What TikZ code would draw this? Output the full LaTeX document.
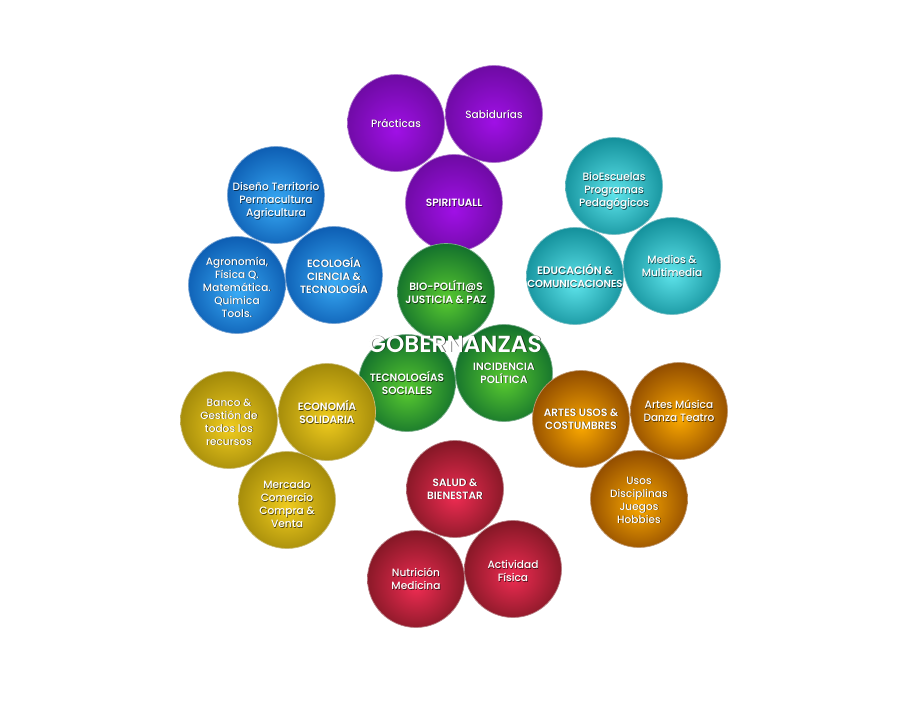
\documentclass[tikz,border=0pt]{standalone}
\usepackage{fontspec}
\setmainfont{Poppins}[UprightFont=* Medium, BoldFont=* SemiBold]
\definecolor{purplein}{HTML}{A010E6}\definecolor{purpleout}{HTML}{6A0A9E}
\definecolor{bluein}{HTML}{38AAF5}\definecolor{blueout}{HTML}{0A58AE}
\definecolor{tealin}{HTML}{5EE4EB}\definecolor{tealout}{HTML}{0E8A95}
\definecolor{greenin}{HTML}{58CA30}\definecolor{greenout}{HTML}{0E6A2C}
\definecolor{goldin}{HTML}{F0CC1E}\definecolor{goldout}{HTML}{9C8408}
\definecolor{orangein}{HTML}{FAA800}\definecolor{orangeout}{HTML}{8A4600}
\definecolor{redin}{HTML}{EE2C52}\definecolor{redout}{HTML}{7C1622}
\newcommand\mkshade[1]{\pgfdeclareradialshading{sh#1}{\pgfpoint{0bp}{-4bp}}{color(0bp)=(#1in); color(29bp)=(#1out); color(50bp)=(#1out)}}
\mkshade{purple}\mkshade{blue}\mkshade{teal}\mkshade{green}\mkshade{gold}\mkshade{orange}\mkshade{red}
\tikzset{
  ball/.style={circle, minimum size=97pt, inner sep=0pt, shading=sh#1, draw=#1out!55!white, line width=0.7pt},
  lbl/.style={align=center, text=white, font=\fontsize{10.6}{13}\selectfont, inner sep=0pt},
  shadowlbl/.style={lbl, text=black, opacity=0.6},
  bigtitle/.style={text=white, font=\fontsize{23.3}{25}\selectfont\bfseries, inner sep=0pt}
}
% name, x, y, colour, text offset (down), text
\newcommand\ballnode[6]{%
  \node[ball=#4] (#1) at (#2,#3) {};
  \node[shadowlbl] (#1s) at ([shift={(0.7,#5+0.7)}]#1.center) {#6};
  \node[lbl] (#1t) at ([shift={(0,#5)}]#1.center) {#6};}
\begin{document}
\begin{tikzpicture}[x=1pt,y=-1pt]
\useasboundingbox (0,0) rectangle (913,705);
% spiritual
\ballnode{prac}{396}{123}{purple}{0}{Prácticas}
\ballnode{sabi}{494}{114}{purple}{0}{Sabidurías}
\ballnode{spir}{454}{203}{purple}{0}{\bfseries SPIRITUALL}
% ecologia
\ballnode{dise}{276}{195}{blue}{6}{Diseño Territorio\\Permacultura\\Agricultura}
\ballnode{agro}{237}{285}{blue}{2}{Agronomía,\\Física Q.\\Matemática.\\Quimica\\Tools.}
\ballnode{ecol}{334}{275}{blue}{0}{\bfseries ECOLOGÍA\\\bfseries CIENCIA \&\\\bfseries TECNOLOGÍA}
% educacion
\ballnode{educ}{575}{276}{teal}{0}{\bfseries\fontsize{10.8}{12}\selectfont EDUCACIÓN \&\\\bfseries\fontsize{10.2}{12}\selectfont COMUNICACIONES}
\ballnode{bioe}{614}{186}{teal}{5}{BioEscuelas\\Programas\\Pedagógicos}
\ballnode{medi}{672}{266}{teal}{0}{Medios \&\\Multimedia}
% gobernanzas
\ballnode{biop}{446}{292}{green}{0}{\bfseries BIO-POLÍTI@S\\\bfseries JUSTICIA \& PAZ}
\ballnode{tecn}{407}{383}{green}{0}{\bfseries TECNOLOGÍAS\\\bfseries SOCIALES}
\ballnode{inci}{504}{373}{green}{0}{\bfseries INCIDENCIA\\\bfseries POLÍTICA}
% economia
\ballnode{banc}{229}{420}{gold}{2}{Banco \&\\Gestión de\\todos los\\recursos}
\ballnode{econ}{327}{412}{gold}{0}{\bfseries ECONOMÍA\\\bfseries SOLIDARIA}
\ballnode{merc}{287}{500}{gold}{4}{Mercado\\Comercio\\Compra \&\\Venta}
% artes
\ballnode{arte}{581}{419}{orange}{0}{\bfseries ARTES USOS \&\\\bfseries COSTUMBRES}
\ballnode{amus}{679}{411}{orange}{0}{Artes Música\\Danza Teatro}
\ballnode{usos}{639}{499}{orange}{1}{Usos\\Disciplinas\\Juegos\\Hobbies}
% salud
\ballnode{salu}{455}{489}{red}{0}{\bfseries SALUD \&\\\bfseries BIENESTAR}
\ballnode{nutr}{416}{579}{red}{0}{Nutrición\\Medicina}
\ballnode{acti}{513}{569}{red}{2}{Actividad\\Física}
% title
\node[bigtitle, text=black, opacity=0.6] (gobs) at (455.8,344.8) {GOBERNANZAS};
\node[bigtitle] (gob) at (455,344) {GOBERNANZAS};
\end{tikzpicture}
\end{document}
